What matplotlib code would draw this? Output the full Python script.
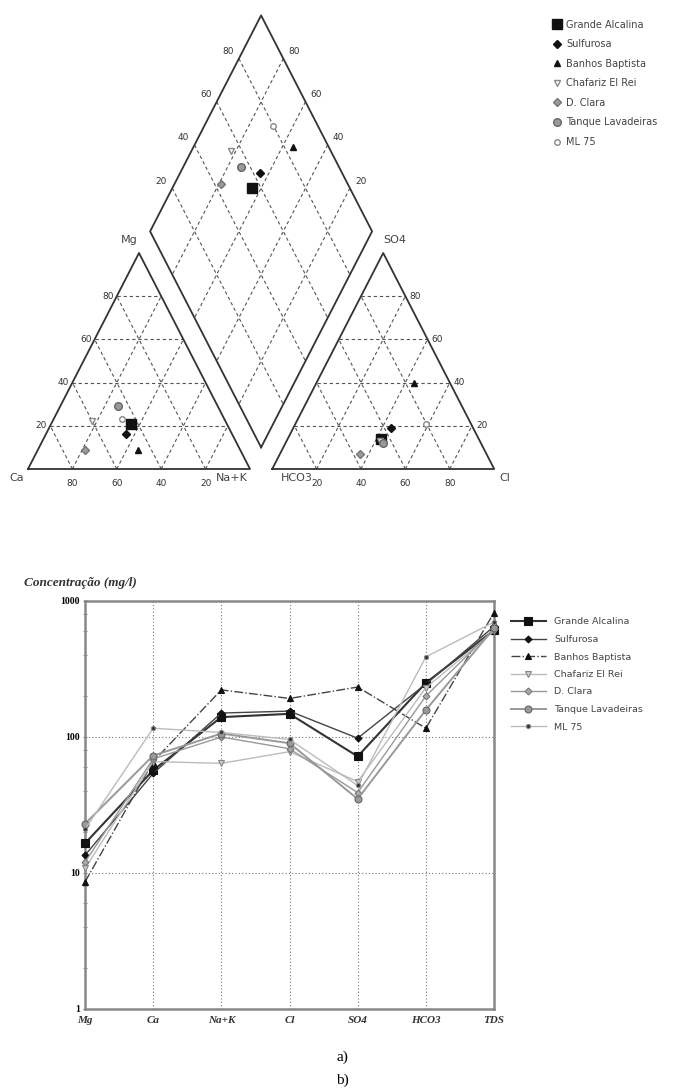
import numpy as np
import matplotlib
matplotlib.use("Agg")
from matplotlib import pyplot as plt

amostras = ['Grande Alcalina', 'Sulfurosa', 'Banhos Baptista', 'Chafariz El Rei',
            'D. Clara', 'Tanque Lavadeiras', 'ML 75']

# Piper: catiões e aniões em % meq/l
ca = [43, 48, 46, 60, 70, 45, 46]
mg = [21, 16, 9, 22, 9, 29, 23]
nak = [36, 36, 45, 18, 21, 26, 31]
hco3 = [44, 37, 16, 45, 57, 44, 20]
so4 = [14, 19, 40, 13, 7, 12, 21]
cl = [42, 44, 44, 42, 36, 44, 59]

# Schoeller: concentração em mg/l
parametros = ['Mg', 'Ca', 'Na+K', 'Cl', 'SO4', 'HCO3', 'TDS']
grande_alcalina = [16.5, 57, 140, 148, 72, 250, 610]
sulfurosa = [13.5, 54, 150, 155, 98, 245, 650]
banhos_baptista = [8.6, 66, 222, 192, 233, 116, 820]
chafariz = [10.8, 66, 64, 78, 47, 230, 600]
d_clara = [12, 69, 100, 82, 39, 200, 620]
tanque = [23, 73, 106, 90, 35, 158, 630]
ml75 = [21, 116, 108, 96, 44, 388, 700]
series = [grande_alcalina, sulfurosa, banhos_baptista, chafariz, d_clara, tanque, ml75]

# estilo de cada amostra
marcadores = ['s', 'D', '^', 'v', 'D', 'o', 'o']
tam_piper = [6.5, 4.5, 5, 5, 4, 5.5, 4]
cor_face = ['#111111', '#111111', '#111111', 'white', '#999999', '#999999', 'white']
cor_borda = ['#111111', '#111111', '#111111', '#888888', '#777777', '#666666', '#888888']
cor_linha = ['#333333', '#444444', '#444444', '#bbbbbb', '#999999', '#999999', '#bbbbbb']
estilo_linha = ['-', '-', '-.', '-', '-', '-', '-']
larg_linha = [1.5, 1.0, 1.0, 1.0, 1.0, 1.4, 1.0]
tam_schoeller = [6, 3.5, 4, 4, 3.5, 5, 3]
face_schoeller = ['#111111', '#111111', '#111111', '#cccccc', '#aaaaaa', '#999999', '#333333']

fig = plt.figure(figsize=(6.8, 10.91), dpi=100)

# ---------------- Diagrama de Piper ----------------
g = 0.1


def cat_xy(na, m):
    return na + 0.5 * m, m


def an_xy(c, s):
    return 1 + g + c + 0.5 * s, s


def dia_xy(na, h):
    return (na + 2 + g - h) / 2, 2 + g - h - na


axp = fig.add_axes([0, 1 - 540 / 1091, 1, 540 / 1091])
axp.set_xlim(-28 / 222, (680 - 28) / 222)
axp.set_ylim((469 - 540) / 216, 469 / 216)
axp.axis('off')

contorno = dict(color='#333333', lw=1.3, zorder=3)
axp.plot([0, 1, 0.5, 0], [0, 0, 1, 0], **contorno)
axp.plot([1 + g, 2 + g, 1.5 + g, 1 + g], [0, 0, 1, 0], **contorno)
dx = [dia_xy(*p)[0] for p in [(1, 1), (1, 0), (0, 0), (0, 1), (1, 1)]]
dy = [dia_xy(*p)[1] for p in [(1, 1), (1, 0), (0, 0), (0, 1), (1, 1)]]
axp.plot(dx, dy, **contorno)

grelha = dict(color='#555555', lw=0.8, ls=(0, (3, 2.5)), zorder=1)
niveis = [0.2, 0.4, 0.6, 0.8]
for p in niveis:
    for a, b in [(cat_xy(0, p), cat_xy(1 - p, p)),
                 (cat_xy(p, 0), cat_xy(p, 1 - p)),
                 (cat_xy(1 - p, 0), cat_xy(0, 1 - p)),
                 (an_xy(0, p), an_xy(1 - p, p)),
                 (an_xy(p, 0), an_xy(p, 1 - p)),
                 (an_xy(1 - p, 0), an_xy(0, 1 - p)),
                 (dia_xy(p, 0), dia_xy(p, 1)),
                 (dia_xy(0, p), dia_xy(1, p))]:
        axp.plot([a[0], b[0]], [a[1], b[1]], **grelha)

num = dict(fontsize=6.5, color='#333333', textcoords='offset pixels',
           va='center')
for p in niveis:
    txt = str(int(round(p * 100)))
    axp.annotate(txt, cat_xy(0, p), xytext=(-3, 0), ha='right', **num)
    axp.annotate(txt, cat_xy(1 - p, 0), xytext=(0, -14), ha='center', **num)
    axp.annotate(txt, an_xy(1 - p, p), xytext=(4, 0), ha='left', **num)
    axp.annotate(txt, an_xy(p, 0), xytext=(0, -14), ha='center', **num)
    axp.annotate(txt, dia_xy(0, 1 - p), xytext=(-11, 7), ha='center', **num)
    axp.annotate(txt, dia_xy(1 - p, 0), xytext=(11, 7), ha='center', **num)

rot = dict(fontsize=8, color='#444444', textcoords='offset pixels',
           ha='center', va='center')
axp.annotate('Mg', (0.5, 1), xytext=(-10, 13), **rot)
axp.annotate('SO4', (1.5 + g, 1), xytext=(12, 13), **rot)
axp.annotate('Ca', (0, 0), xytext=(-11, -9), **rot)
axp.annotate('Na+K', (1, 0), xytext=(-18, -9), **rot)
axp.annotate('HCO3', (1 + g, 0), xytext=(25, -9), **rot)
axp.annotate('Cl', (2 + g, 0), xytext=(11, -9), **rot)

pontos = []
for i, nome in enumerate(amostras):
    xs, ys = [], []
    for x, y in [cat_xy(nak[i] / 100, mg[i] / 100),
                 an_xy(cl[i] / 100, so4[i] / 100),
                 dia_xy(nak[i] / 100, hco3[i] / 100)]:
        xs.append(x)
        ys.append(y)
    h, = axp.plot(xs, ys, ls='none', marker=marcadores[i], ms=tam_piper[i],
                  mfc=cor_face[i], mec=cor_borda[i], mew=1.0, zorder=5,
                  label=nome)
    pontos.append(h)

fig.legend(handles=pontos, loc='upper left',
           bbox_to_anchor=(544 / 680, 1 - 11 / 1091), frameon=False,
           fontsize=7.0, handlelength=0.8, handletextpad=0.6,
           labelspacing=0.98, labelcolor='#444444')

# ---------------- Diagrama de Schoeller ----------------
axs = fig.add_axes([85 / 680, (1091 - 1009) / 1091, 409 / 680, 408 / 1091])
x = np.arange(len(parametros))
linhas = []
for i, nome in enumerate(amostras):
    h, = axs.plot(x, series[i], ls=estilo_linha[i], lw=larg_linha[i],
                  color=cor_linha[i], marker=marcadores[i], ms=tam_schoeller[i],
                  mfc=face_schoeller[i], mec=cor_borda[i], mew=0.8,
                  clip_on=False, zorder=4, label=nome)
    linhas.append(h)

axs.set_yscale('log')
axs.set_ylim(1, 1000)
axs.set_xlim(0, len(parametros) - 1)
axs.set_xticks(x)
axs.set_xticklabels(parametros, fontsize=8, fontstyle='italic',
                    fontweight='bold', family='Liberation Serif', color='#333333')
axs.set_yticks([1, 10, 100, 1000])
axs.set_yticklabels(['1', '10', '100', '1000'], fontsize=7,
                    fontweight='bold', family='Liberation Serif')
menores = [m * d for d in [1, 10, 100] for m in [2, 4, 6, 8]]
axs.set_yticks(menores, minor=True)
axs.set_yticklabels([], minor=True)
axs.tick_params(axis='y', which='both', direction='inout', length=3,
                color='#777777', pad=2)
axs.tick_params(axis='x', length=0, pad=5)
axs.grid(True, which='major', color='#777777', lw=0.8, ls=(0, (1, 2)))
for lado in axs.spines.values():
    lado.set_color('#888888')
    lado.set_linewidth(1.8)

axs.text(-0.15, 1.045, 'Concentração (mg/l)', transform=axs.transAxes,
         fontsize=9.5, fontstyle='italic', fontweight='bold',
         family='Liberation Serif', color='#333333', ha='left', va='center')

fig.legend(handles=linhas, loc='upper left',
           bbox_to_anchor=(502 / 680, 1 - 609 / 1091), frameon=False,
           fontsize=6.8, handlelength=3.8, handletextpad=0.8,
           labelspacing=0.9, labelcolor='#444444')

fig.text(342 / 680, 1 - 1057 / 1091, 'a)', ha='center', va='center',
         fontsize=11, family='Liberation Serif')
fig.text(342 / 680, 1 - 1080 / 1091, 'b)', ha='center', va='center',
         fontsize=11, family='Liberation Serif')

fig.savefig('out.png', dpi=100, facecolor='white')
